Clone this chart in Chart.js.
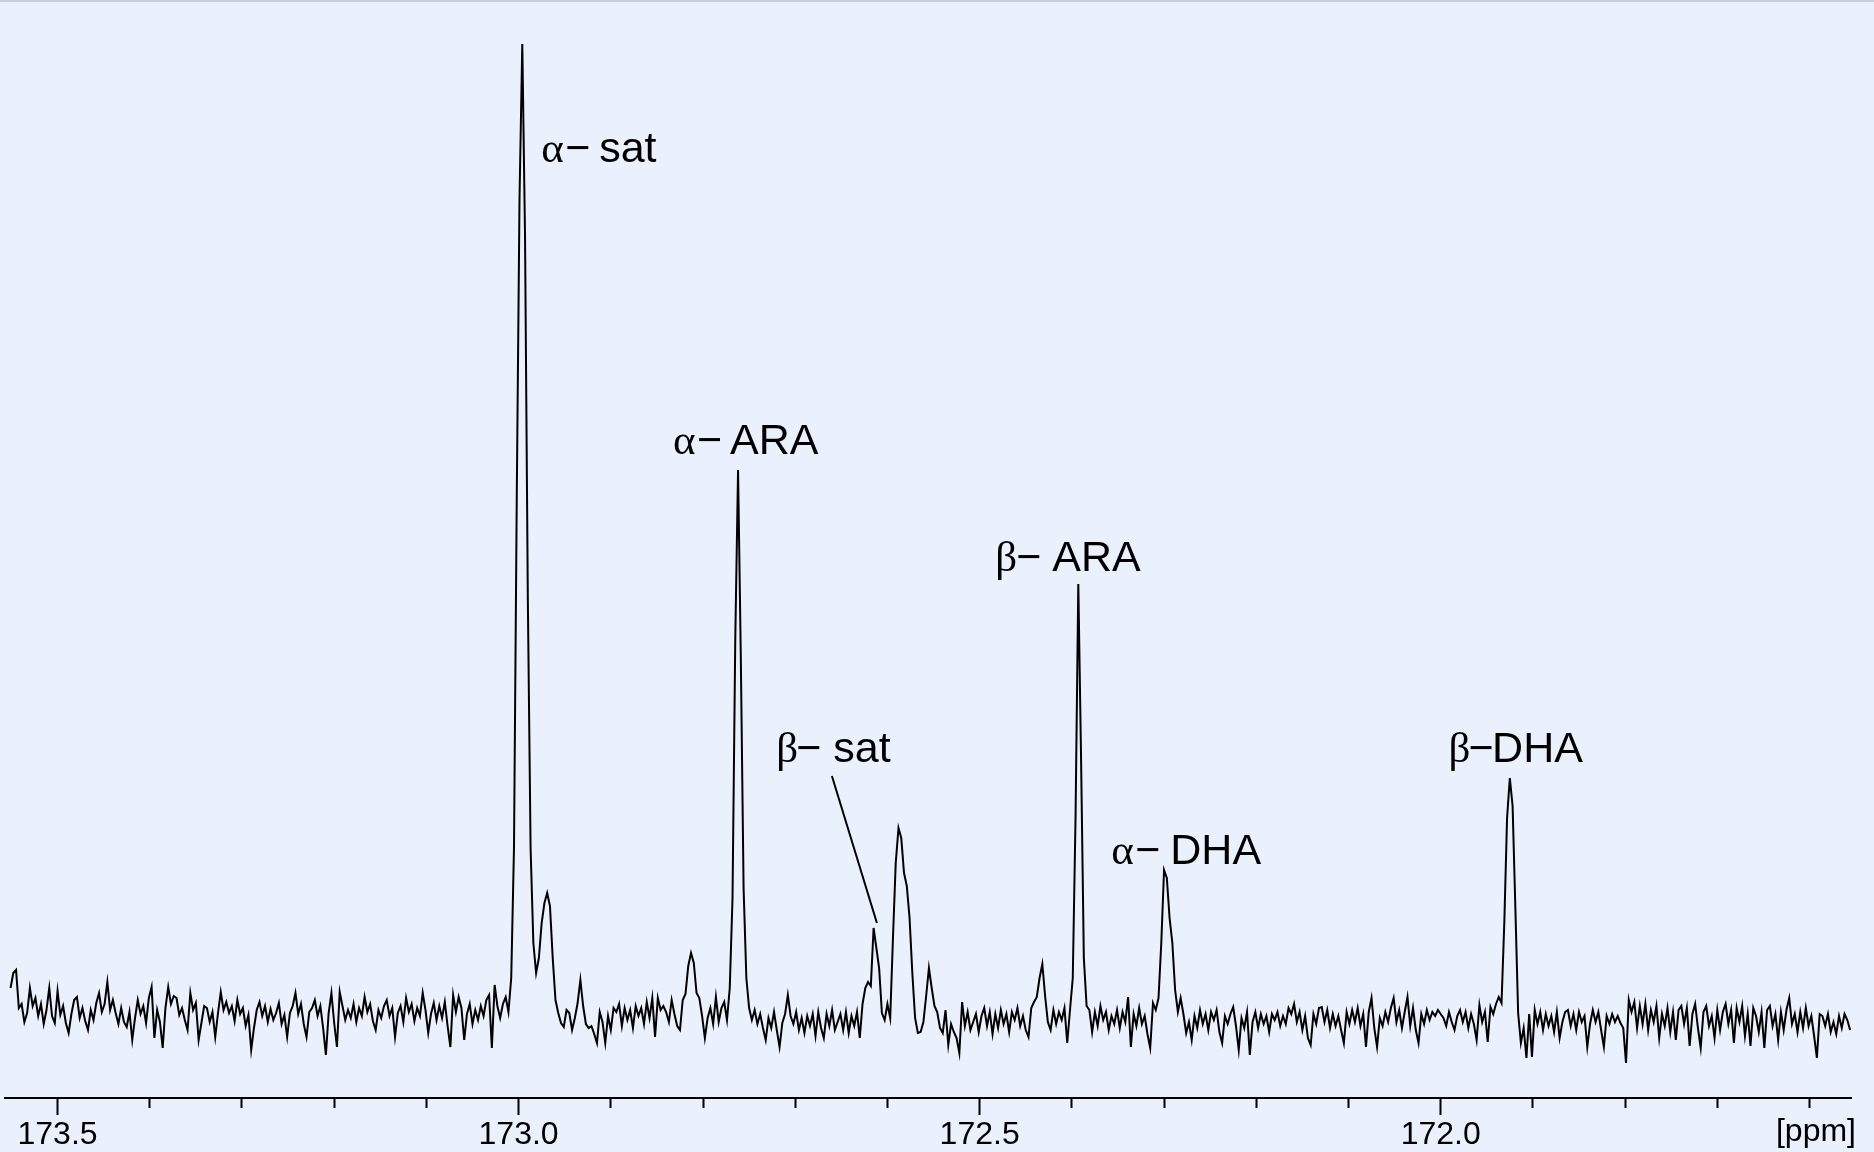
<!DOCTYPE html>
<html><head><meta charset="utf-8">
<script src="https://cdn.jsdelivr.net/npm/chart.js@4.4.1/dist/chart.umd.min.js"></script>
<style>html,body{margin:0;padding:0;background:#eaf0fc;overflow:hidden}canvas{display:block}</style>
</head><body>
<canvas id="c" width="1874" height="1152" style="width:1874px;height:1152px"></canvas>
<script>
// ---- data ----
const ppmStart = 173.551;   // first sample (ppm)
const ppmStep = 0.003;      // sample spacing (ppm)
const intensity = [
30,45,48,10,14,-4,5,30,12,20,2,14,-6,8,30,2,-5,27,3,12,
-5,-15,4,18,21,0,10,-3,-12,8,-2,15,25,6,14,36,8,18,5,-6,
10,-4,-9,6,-22,0,18,4,12,-5,20,31,-20,8,-4,-30,10,31,14,22,
20,3,10,-2,-12,25,8,15,-22,-5,12,10,-4,6,-19,5,26,8,16,5,
12,-3,18,4,10,-8,3,-32,-10,8,16,2,12,-4,9,-2,5,15,-6,3,
-19,5,12,25,4,14,-6,-19,6,10,18,2,12,-10,-37,5,25,-5,-29,26,
12,-2,8,0,14,-4,10,2,21,6,14,-3,-12,8,0,12,18,2,10,-19,
5,12,-4,20,6,14,-3,10,2,25,8,-15,4,15,-2,12,0,16,-8,-29,
23,6,21,10,-22,4,14,-6,8,-2,12,2,18,23,-30,33,12,0,14,21,
6,40,170,520,820,974,780,420,170,75,45,60,95,115,125,112,60,18,5,-5,
-9,8,5,-12,0,15,38,12,-6,-10,-8,-16,-25,6,-4,-25,2,-12,10,6,
14,-8,10,-2,8,-10,12,2,10,-6,16,0,20,-19,20,8,12,6,-4,18,
4,-8,-12,18,24,52,65,55,25,20,2,-20,0,10,-6,21,-4,10,16,-2,
30,120,380,548,360,130,40,10,-2,8,-6,4,-10,-22,0,-10,6,-12,-29,-5,
4,23,2,-6,6,-12,0,-15,2,-8,4,-18,6,-10,-20,4,-8,8,-12,-4,
4,-12,6,-15,2,-8,6,-20,14,30,36,32,90,70,50,5,-2,14,0,80,
155,190,180,145,132,100,45,0,-15,-14,-4,22,50,30,12,6,-10,-15,8,-27,
-6,-14,-20,-35,16,-8,6,-12,-4,4,-14,2,10,-8,6,-16,4,-10,8,-6,
4,-14,6,-2,10,-8,2,-12,-19,10,16,21,40,54,22,-4,-12,8,-6,6,
-2,10,-25,8,40,200,434,260,60,12,8,-14,6,-8,12,-2,6,-12,2,-6,
8,-10,6,-4,21,-29,4,-8,10,-6,2,-16,-30,15,8,20,75,148,140,100,
75,28,6,20,4,-15,-4,-22,2,-10,8,-6,4,-12,6,-2,8,-14,-25,2,
-6,4,11,-8,-32,0,-10,6,-37,-4,6,-10,4,-6,2,-14,4,-2,6,-8,
2,-6,10,4,14,-4,6,-12,2,-20,-27,4,-6,10,11,-4,8,-10,4,-8,
2,-12,-25,6,-6,8,-4,10,-8,4,-29,6,20,-10,-29,0,-8,6,-4,10,
20,-4,8,-10,6,21,-8,10,-12,-25,4,-6,8,-2,6,2,8,4,0,-8,
6,-4,-12,2,8,-4,6,-10,4,-6,-22,13,-4,6,-24,11,4,14,21,15,
95,200,240,212,110,5,-25,-10,-40,4,-39,8,-6,6,-12,4,-8,2,-14,6,
-20,-4,6,8,-8,4,-12,6,-4,2,-29,-6,8,-4,6,-12,-29,2,-6,4,
-4,2,-5,-10,-45,18,6,16,-10,12,-6,14,-12,8,-4,12,-20,4,-8,10,
-14,6,-22,8,12,-6,10,-28,4,14,-10,-30,6,12,-8,2,-20,8,-12,6,
14,-6,8,-25,10,-4,12,-18,4,-28,10,2,-14,6,-30,8,12,-8,4,-22,
6,-12,8,20,-6,4,-14,6,-10,10,-8,2,-18,-40,4,2,-8,4,-14,-4,-16,2,-10,4,-2,-12
];
const axisRange = [171.555, 173.557];      // ppm shown (right, left)
const intensityRange = [-80, 1018];
const majorTicks = [173.5, 173.0, 172.5, 172.0];
const unitLabel = '[ppm]';
const peakGreek = ['α', 'α', 'β', 'β', 'α', 'β'];
const peakName = ['sat', 'ARA', 'sat', 'ARA', 'DHA', 'DHA'];
const peakLabelPpm = [172.9755, 172.8326, 172.7206, 172.4831, 172.3572, 171.9914];
const peakLabelLevel = [856, 564, 256, 447, 154, 256];
const leaderPpm = [172.6602, 172.6114];
const leaderLevel = [242, 95];

// ---- styling ----
const minusOffset = [26, 26, 22, 23, 26, 22];
const nameOffset = [58, 57, 57, 57, 59, 43.5];
const isMajor = v => majorTicks.some(m => Math.abs(m - v) < 1e-6);

const points = intensity.map((v, i) => ({ x: +(ppmStart - i * ppmStep).toFixed(4), y: v }));

const bgPlugin = {
  id: 'bg',
  beforeDraw(chart) {
    const c = chart.ctx;
    c.save();
    c.fillStyle = '#eaf0fc';
    c.fillRect(0, 0, chart.width, chart.height);
    c.fillStyle = '#c5ccdc';
    c.fillRect(0, 0, chart.width, 2);
    c.restore();
  }
};

const labelPlugin = {
  id: 'peakLabels',
  afterDraw(chart) {
    const c = chart.ctx, xs = chart.scales.x, ys = chart.scales.y;
    c.save();
    c.fillStyle = '#000';
    c.textBaseline = 'alphabetic';
    c.textAlign = 'left';
    for (let i = 0; i < peakName.length; i++) {
      const x = xs.getPixelForValue(peakLabelPpm[i]);
      const y = ys.getPixelForValue(peakLabelLevel[i]);
      c.font = '43px "Liberation Serif"';
      c.fillText(peakGreek[i], x, y);
      c.font = '43px "Liberation Sans"';
      c.fillText('\u2212', x + minusOffset[i] - 2, y);
      c.fillText(peakName[i], x + nameOffset[i], y);
    }
    // leader line for beta-sat
    c.strokeStyle = '#000';
    c.lineWidth = 2;
    c.beginPath();
    c.moveTo(xs.getPixelForValue(leaderPpm[0]), ys.getPixelForValue(leaderLevel[0]));
    c.lineTo(xs.getPixelForValue(leaderPpm[1]), ys.getPixelForValue(leaderLevel[1]));
    c.stroke();
    // unit label
    c.font = '32px "Liberation Sans"';
    c.textAlign = 'right';
    c.fillText(unitLabel, 1856, 1141);
    c.restore();
  }
};

new Chart(document.getElementById('c'), {
  type: 'line',
  data: { datasets: [{ data: points, borderColor: '#000', borderWidth: 2, pointRadius: 0, tension: 0, fill: false }] },
  options: {
    responsive: false, animation: false, events: [],
    layout: { padding: { left: 5, right: 23, top: 0, bottom: 0 } },
    plugins: { legend: { display: false }, tooltip: { enabled: false } },
    scales: {
      x: {
        type: 'linear', reverse: true, min: axisRange[0], max: axisRange[1],
        afterFit: s => { s.height = 54; },
        ticks: {
          stepSize: 0.1, includeBounds: false, autoSkip: false, maxTicksLimit: 100,
          maxRotation: 0, minRotation: 0, padding: 1, color: '#000',
          font: { family: 'Liberation Sans', size: 32 },
          callback: v => isMajor(v) ? v.toFixed(1) : ''
        },
        grid: {
          drawOnChartArea: false, drawTicks: true, tickLength: 17, tickWidth: 2, tickColor: '#000',
          tickBorderDash: ctx => (ctx.tick && isMajor(ctx.tick.value)) ? [] : [9, 100]
        },
        border: { display: true, color: '#000', width: 2 }
      },
      y: { display: false, min: intensityRange[0], max: intensityRange[1] }
    }
  },
  plugins: [bgPlugin, labelPlugin]
});
</script>
</body></html>
